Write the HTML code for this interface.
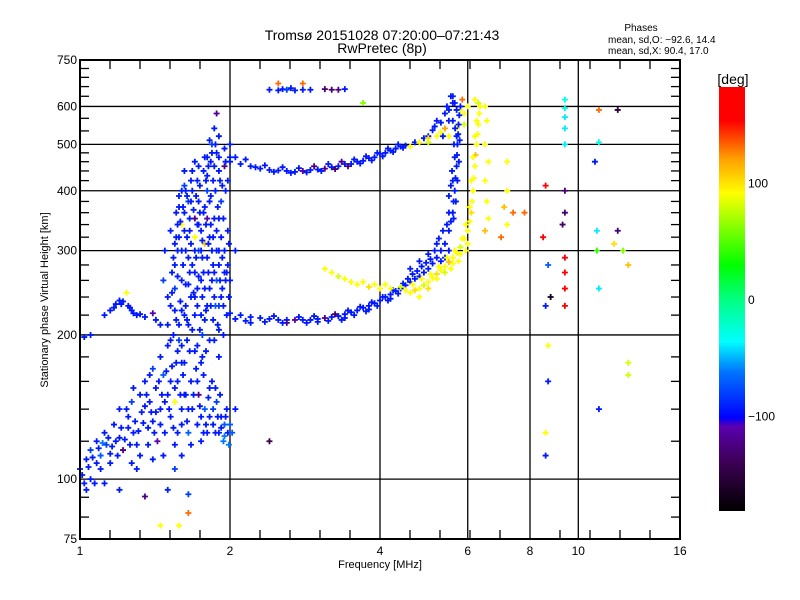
<!DOCTYPE html>
<html><head><meta charset="utf-8"><style>
body{margin:0;background:#fff;}
svg{display:block;font-family:"Liberation Sans",sans-serif;}
</style></head><body>
<svg id="chart" width="800" height="600" viewBox="0 0 800 600" xmlns="http://www.w3.org/2000/svg">
<defs>
<linearGradient id="cbg" x1="0" y1="1" x2="0" y2="0">
<stop offset="0" stop-color="#000"/>
<stop offset="0.11" stop-color="#3a0050"/>
<stop offset="0.2" stop-color="#5a00b0"/>
<stop offset="0.22" stop-color="#0000ff"/>
<stop offset="0.33" stop-color="#0078ff"/>
<stop offset="0.4" stop-color="#00ffff"/>
<stop offset="0.5" stop-color="#00ff80"/>
<stop offset="0.58" stop-color="#00ff00"/>
<stop offset="0.75" stop-color="#ffff00"/>
<stop offset="0.83" stop-color="#ffa000"/>
<stop offset="0.92" stop-color="#ff0000"/>
<stop offset="1" stop-color="#ff0000"/>
</linearGradient>
</defs>
<rect width="800" height="600" fill="#fff"/>
<g id="grid"></g>
<g id="marks"></g>
<g id="axes"></g>
<text x="382" y="40" font-size="14" text-anchor="middle">Tromsø 20151028 07:20:00–07:21:43</text>
<text x="382" y="53" font-size="14" text-anchor="middle">RwPretec (8p)</text>
<text x="641" y="31" font-size="10" text-anchor="middle">Phases</text>
<text x="608" y="43" font-size="10">mean, sd,O: −92.6, 14.4</text>
<text x="608" y="54" font-size="10">mean, sd,X:  90.4, 17.0</text>
<text x="380" y="568" font-size="11" text-anchor="middle">Frequency [MHz]</text>
<text transform="translate(48,300) rotate(-90)" font-size="11" text-anchor="middle">Stationary phase Virtual Height [km]</text>
<rect x="719" y="87" width="26" height="424" fill="url(#cbg)"/>
<text x="733" y="84" font-size="14" text-anchor="middle">[deg]</text>
<g id="cbticks"></g>
</svg>
<script>
const xTicks=[1,2,4,6,8,10,16];
const xGrid=[2,4,6,8,10];
const yTicks=[75,100,200,300,400,500,600,750];
const yGrid=[100,200,300,400,500,600];
const cbTicks=[100,0,-100];
// [freq MHz, height km, phase deg]
const lowCloud=[[1.0,105,-100],[1.02,98,-90],[1.03,110,-100],[1.05,115,-80],[1.05,100,-100],[1.08,120,-100],[1.1,112,-70],[1.1,105,-100],[1.12,125,-100],[1.13,118,-80],[1.15,108,-100],[1.17,130,-100],[1.2,122,-100],[1.2,140,-100],[1.22,115,-120],[1.25,135,-100],[1.27,145,-80],[1.28,125,-100],[1.3,118,-100],[1.32,150,-100],[1.33,138,-90],[1.35,160,-100],[1.37,128,-100],[1.38,145,-100],[1.4,170,-80],[1.4,132,-100],[1.42,155,-100],[1.43,120,-110],[1.45,180,-100],[1.45,140,-100],[1.47,165,-70],[1.48,125,-100],[1.5,150,-100],[1.5,190,-100],[1.52,135,-100],[1.53,172,-100],[1.55,145,90],[1.55,118,-100],[1.57,160,-100],[1.58,195,-80],[1.6,140,-100],[1.6,130,-100],[1.62,175,-100],[1.63,150,-100],[1.65,125,-70],[1.67,160,-100],[1.68,140,-100],[1.7,185,-100],[1.72,130,-100],[1.73,150,-120],[1.75,120,-100],[1.77,165,-100],[1.78,140,-70],[1.8,125,-100],[1.82,155,-100],[1.85,130,-100],[1.88,145,-80],[1.9,125,-100],[1.92,135,-100],[1.95,130,-70],[1.97,140,-100],[1.98,125,-100],[1.3,105,-100],[1.4,110,-100],[1.55,105,-80],[1.2,95,-100],[1.12,98,-100],[1.6,112,-100],[1.35,92,-120],[1.5,95,-90],[1.65,93,-80],[1.45,80,90],[1.58,80,90],[1.65,85,130],[1.03,95,-100],[1.15,113,-100],[1.25,128,-100],[1.35,142,-100],[1.45,130,-100],[1.55,155,-100],[1.65,140,-100],[1.75,135,-100],[1.85,140,-80],[1.95,123,-60],[2.0,130,-70],[1.08,108,-100],[1.18,120,-100],[1.28,155,-100],[1.38,165,-100],[1.48,145,-100]];
const lowCloud2=[[1.01,102,-100],[1.04,106,-100],[1.06,111,-100],[1.07,98,-100],[1.09,116,-100],[1.11,119,-60],[1.14,122,-100],[1.16,117,-100],[1.19,112,-100],[1.21,128,-100],[1.23,121,-100],[1.24,140,-100],[1.26,118,-100],[1.29,132,-100],[1.31,126,-100],[1.34,131,-100],[1.36,150,-100],[1.39,138,-100],[1.41,125,-100],[1.44,160,-100],[1.46,150,-100],[1.49,168,-100],[1.51,140,-100],[1.54,128,-100],[1.56,175,-100],[1.59,150,-100],[1.61,165,-100],[1.64,132,-100],[1.66,185,-100],[1.69,150,-100],[1.71,170,-100],[1.74,142,-100],[1.76,180,-100],[1.79,130,-100],[1.81,148,-100],[1.84,160,-100],[1.87,125,-100],[1.89,135,-100],[1.91,150,-100],[1.94,120,-60],[1.96,135,-100],[1.99,118,-60],[1.32,112,-100],[1.42,138,-100],[1.52,160,-100],[1.62,150,-100],[1.72,160,-100],[1.82,135,-100],[1.92,128,-100],[1.27,108,-100],[1.37,118,-100],[1.47,112,-100],[1.57,125,-100],[1.67,118,-100],[1.77,125,-100],[1.87,155,-100]];
const column=[[1.5,210,-100],[1.52,230,-100],[1.55,250,-80],[1.55,280,-100],[1.57,300,-100],[1.58,320,-100],[1.6,260,-100],[1.6,340,90],[1.62,220,-100],[1.62,360,-100],[1.65,290,-100],[1.65,380,-80],[1.67,240,-100],[1.67,310,-100],[1.68,400,-100],[1.7,270,-100],[1.7,350,-120],[1.72,230,-100],[1.72,420,-100],[1.73,300,-70],[1.75,330,-100],[1.75,260,-100],[1.77,440,-100],[1.78,370,-100],[1.78,215,-100],[1.8,290,-100],[1.8,400,-80],[1.82,250,-100],[1.83,460,-100],[1.85,320,-100],[1.85,420,-100],[1.87,230,-70],[1.88,480,-100],[1.9,280,-100],[1.9,350,-100],[1.92,380,-80],[1.93,250,-100],[1.95,300,-100],[1.95,450,-120],[1.97,220,-100],[1.98,330,-100],[2.0,260,-100],[1.53,270,-100],[1.58,210,-100],[1.63,230,-100],[1.68,280,-100],[1.73,380,-100],[1.78,310,110],[1.83,340,-100],[1.88,260,-70],[1.93,410,-100],[1.98,280,-100],[1.86,540,-100],[1.88,580,-120],[1.9,520,-100],[1.6,300,-100],[1.7,320,90],[1.65,210,-100],[1.75,220,-100],[1.85,215,-100],[1.55,225,-100],[1.5,240,-100],[1.47,260,-80],[1.48,300,-100],[1.52,330,-100],[1.6,400,-100],[1.62,440,-100],[1.7,460,-100],[1.8,470,-100],[1.95,490,-100],[2.0,470,-100],[2.05,300,-100],[2.05,140,-100],[2.02,125,-70],[1.56,360,-100],[1.58,390,-100],[1.62,410,-80],[1.66,350,-100],[1.7,300,-100],[1.72,250,-100],[1.76,290,-100],[1.8,350,-110],[1.82,380,-100],[1.84,300,-100],[1.86,270,-100],[1.9,230,-80],[1.92,320,-100],[1.96,260,-100],[1.54,200,-100],[1.6,190,-100],[1.68,205,-100],[1.76,200,-80],[1.82,195,-100],[1.9,205,-100],[1.56,320,-100],[1.64,320,-100],[1.74,360,-100],[1.8,430,-100],[1.86,450,-100],[1.9,440,-100],[1.98,420,-100],[1.84,500,-80],[2.0,500,-100]];
const column2=[[1.53,245,-100],[1.54,290,-100],[1.56,215,-100],[1.57,265,-100],[1.59,345,-100],[1.59,235,-100],[1.61,280,-100],[1.61,370,-100],[1.63,255,-100],[1.63,300,-100],[1.64,390,-100],[1.64,215,-100],[1.66,270,-100],[1.66,330,-100],[1.67,420,-100],[1.69,245,-100],[1.69,365,-100],[1.7,220,-100],[1.71,290,-100],[1.71,390,-100],[1.73,265,-100],[1.73,340,-100],[1.74,205,-100],[1.74,410,-100],[1.76,240,-100],[1.76,315,-100],[1.77,360,-100],[1.77,270,-100],[1.79,225,-100],[1.79,340,-100],[1.79,420,-100],[1.81,270,-100],[1.81,310,-100],[1.81,450,-100],[1.83,230,-100],[1.83,390,-100],[1.84,260,-100],[1.86,350,-100],[1.86,240,-100],[1.87,400,-100],[1.88,300,-100],[1.89,210,-100],[1.89,370,-100],[1.91,260,-100],[1.91,420,-100],[1.93,290,-100],[1.94,230,-100],[1.94,350,-100],[1.96,400,-100],[1.97,270,-100],[1.99,310,-100],[1.99,240,-100],[1.55,310,-100],[1.57,340,-100],[1.6,225,-100],[1.62,330,-100],[1.65,255,-100],[1.67,380,-100],[1.7,240,-100],[1.72,340,-100],[1.75,300,-100],[1.78,250,-100],[1.8,230,-100],[1.82,320,-100],[1.85,280,-100],[1.88,330,-100],[1.9,300,-100],[1.92,240,-100],[1.95,270,-100],[1.58,370,-100],[1.63,400,-100],[1.68,440,-100],[1.73,450,-100],[1.78,470,-100],[1.84,480,-100],[1.9,470,-100],[1.96,460,-100],[1.82,510,-100],[1.87,500,-100],[1.52,195,-100],[1.57,185,-100],[1.64,195,-100],[1.72,190,-100],[1.79,185,-100],[1.86,195,-100],[1.94,200,-100],[1.6,175,-100],[1.75,175,-100],[1.9,180,-100]];
const smallTrace=[[1.15,225,-100],[1.18,232,-100],[1.2,236,-100],[1.22,235,-100],[1.25,230,-100],[1.27,225,-100],[1.3,220,-100],[1.12,220,-100],[1.05,200,-100],[1.02,198,-100],[1.24,245,90],[1.4,222,-110],[1.35,218,-100],[1.45,210,-100],[1.42,215,-100],[1.17,228,-100],[1.21,232,-100],[1.26,228,-100],[1.32,221,-100],[1.28,222,-100]];
const upperTrace=[[2.0,460,-100],[2.1,455,-100],[2.2,450,-100],[2.3,445,-90],[2.4,442,-100],[2.5,441,-100],[2.6,440,-100],[2.7,438,-100],[2.8,440,-110],[2.9,442,-100],[3.0,443,-100],[3.1,445,-120],[3.2,448,-100],[3.3,450,-100],[3.4,455,-100],[3.5,455,-100],[3.6,460,-100],[3.7,462,-100],[3.8,468,-100],[3.9,470,-100],[4.0,478,-100],[4.1,480,-100],[4.2,485,-100],[4.3,490,-100],[4.4,495,-100],[4.5,497,-100],[4.7,505,-100],[4.9,515,-100],[5.1,535,-100],[5.3,555,-100],[5.5,590,-100],[5.6,610,-100],[2.15,465,-100],[2.35,452,-100],[2.55,448,-100],[2.75,446,-100],[2.95,450,-120],[3.15,455,-100],[3.35,460,-120],[3.55,465,-100],[3.75,472,-100],[3.95,480,-100],[4.15,490,-100],[4.35,500,-100],[5.2,560,-100],[5.4,580,-100],[2.05,470,-100],[2.25,448,-100],[2.45,438,-100],[2.65,436,-100],[2.85,437,-100],[3.05,440,-100],[3.25,444,-130],[3.45,450,-130],[3.65,456,-100],[3.85,463,-100],[4.05,472,-100],[4.25,482,-100],[4.45,492,-100],[5.0,520,-100],[5.15,545,-100],[5.45,600,-100],[5.35,520,-100],[5.5,560,-100],[5.55,630,-100]];
const upperX=[[4.6,495,90],[4.8,505,90],[5.0,515,100],[5.2,520,90],[5.4,540,120],[5.6,560,90],[5.8,590,90],[5.9,550,80],[5.85,620,130],[6.0,600,90],[5.0,505,80],[5.3,530,90],[5.5,520,90],[5.7,540,90],[5.9,580,90]];
const lowerTrace=[[2.0,222,-100],[2.1,220,-100],[2.2,218,-100],[2.3,217,-100],[2.4,216,-100],[2.5,215,-100],[2.6,215,-100],[2.7,215,-110],[2.8,215,-100],[2.9,215,-100],[3.0,216,-100],[3.1,217,-120],[3.2,218,-100],[3.3,219,-100],[3.4,221,-100],[3.5,223,-100],[3.6,225,-100],[3.7,228,-100],[3.8,230,-100],[3.9,233,-100],[4.0,236,-100],[4.1,240,-100],[4.2,243,-100],[4.3,247,-100],[4.4,250,-100],[4.5,254,-100],[4.6,258,-100],[4.7,262,-100],[4.8,265,-100],[4.9,270,-100],[5.0,275,-100],[5.1,282,-100],[5.2,290,-100],[5.3,300,-100],[5.4,310,-100],[5.5,330,-100],[5.55,345,-100],[5.6,360,-100],[5.62,380,-100],[5.65,400,-100],[5.67,425,-100],[5.7,450,-100],[5.71,475,-100],[5.72,500,-100],[5.74,525,-100],[5.75,550,-100],[5.77,575,-100],[5.8,600,-100],[5.6,630,-100],[4.6,275,-100],[4.8,285,-100],[5.0,295,-100],[5.2,310,-100],[5.35,330,-100],[5.5,360,-100],[5.6,420,-100],[5.65,470,-100],[5.7,520,-100],[5.6,560,-100],[2.2,212,-100],[2.6,212,-120],[3.0,213,-100],[3.4,217,-100],[3.8,226,-100],[4.2,238,-100]];
const lowerTrace2=[[2.05,216,-100],[2.15,214,-100],[2.35,213,-100],[2.45,219,-100],[2.55,212,-100],[2.75,218,-100],[2.85,212,-100],[2.95,219,-100],[3.15,214,-100],[3.25,221,-130],[3.35,215,-100],[3.45,225,-100],[3.55,220,-100],[3.65,229,-100],[3.75,224,-100],[3.85,234,-100],[3.95,230,-100],[4.05,240,-100],[4.15,236,-100],[4.25,248,-100],[4.35,244,-100],[4.45,256,-100],[4.55,262,-100],[4.65,268,-100],[4.75,272,-100],[4.85,278,-100],[4.95,283,-100],[5.05,288,-100],[5.15,300,-100],[5.25,318,-100],[5.45,340,-100],[5.5,390,-100],[5.58,440,-100],[5.63,500,-100],[5.66,540,-100],[5.7,590,-100],[5.55,410,-100],[5.62,350,-100],[5.68,380,-100],[5.72,420,-100],[5.76,460,-100],[5.78,510,-100],[5.65,610,-100],[5.5,300,-100],[5.4,290,-100],[5.3,285,-100]];
const lowerX=[[4.5,248,90],[4.6,245,90],[4.7,248,100],[4.8,250,90],[4.9,254,80],[5.0,258,90],[5.1,263,90],[5.2,268,100],[5.3,273,90],[5.4,278,90],[5.5,284,110],[5.6,290,90],[5.7,297,90],[5.8,305,80],[5.9,318,90],[6.0,330,90],[6.05,345,90],[6.1,360,100],[6.12,380,90],[6.15,400,90],[6.17,425,90],[6.2,450,90],[6.22,475,110],[6.25,500,90],[6.28,525,90],[6.3,550,90],[6.33,580,90],[6.35,600,90],[4.8,240,90],[5.0,250,100],[5.2,262,90],[5.4,270,80],[5.6,282,90],[5.8,295,90],[6.0,310,90],[3.1,275,90],[3.2,270,90],[3.3,265,80],[3.4,262,90],[3.5,258,90],[3.6,255,90],[3.8,252,100],[4.0,250,90],[4.2,250,90],[4.4,252,80],[3.7,258,90],[3.9,255,90],[4.1,255,90],[6.5,600,90],[6.55,560,90],[6.5,500,90],[6.6,460,90],[6.5,420,90],[6.55,380,90],[6.6,350,90],[6.5,330,110],[7.2,400,90],[7.1,370,110],[7.2,340,90],[7.0,320,130],[7.2,460,90],[7.4,360,130],[7.8,360,130],[4.65,255,90],[4.85,262,90],[5.05,268,90],[5.25,278,90],[5.45,290,90],[5.65,300,90],[5.85,318,90],[5.95,340,90],[6.05,370,90],[6.1,420,90],[6.15,470,90],[6.2,520,90],[6.25,560,90],[5.95,300,90],[5.75,285,90],[5.55,275,90]];
const sparse=[[8.6,410,160],[8.5,320,160],[8.7,280,-70],[8.8,240,-170],[8.6,230,-100],[8.7,190,90],[8.7,160,-100],[8.6,125,90],[8.6,112,-100],[9.4,620,-30],[9.4,595,-30],[9.4,570,-40],[9.4,540,-40],[9.4,500,-40],[9.4,400,-130],[9.4,360,-130],[9.3,340,-130],[9.4,290,160],[9.4,270,160],[9.4,250,160],[9.4,230,160],[11.0,590,130],[11.0,505,-30],[10.8,460,-100],[10.9,330,-40],[10.9,300,40],[11.0,250,-40],[12.0,590,-150],[12.0,330,-130],[12.3,300,60],[12.6,280,110],[12.6,175,80],[12.6,165,80],[11.8,310,100],[11.0,140,-100],[6.2,620,90],[6.3,610,80],[2.4,120,-140],[2.5,670,130],[2.8,670,130],[3.7,610,60]];
const topTrace=[[2.4,650,-100],[2.5,648,-100],[2.55,652,-100],[2.6,650,-80],[2.7,648,-100],[2.8,650,-100],[2.9,650,-100],[3.1,652,-130],[3.2,650,-130],[3.3,650,-120],[2.65,655,-100],[3.4,652,-100]];

const X0=80,X1=680,Y0=539,Y1=60;
function xs(f){return X0+(X1-X0)*Math.log2(f)/4;}
function ys(h){return Y0-(Y0-Y1)*Math.log10(h/75);}
const NS='http://www.w3.org/2000/svg';
function mk(tag,attrs,parent){const e=document.createElementNS(NS,tag);for(const k in attrs)e.setAttribute(k,attrs[k]);parent.appendChild(e);return e;}
const stops=[[-180,0,0,0],[-140,58,0,80],[-108,90,0,176],[-100,0,0,255],[-60,0,120,255],[-37,0,255,255],[0,0,255,128],[28,0,255,0],[90,255,255,0],[120,255,160,0],[150,255,0,0],[180,255,0,0]];
function col(p){if(p===-100)p=-92;for(let i=1;i<stops.length;i++){if(p<=stops[i][0]){const a=stops[i-1],b=stops[i];const t=(p-a[0])/(b[0]-a[0]);return 'rgb('+[1,2,3].map(j=>Math.round(a[j]+t*(b[j]-a[j]))).join(',')+')';}}return 'rgb(255,0,0)';}
const grid=document.getElementById('grid'),axes=document.getElementById('axes'),marks=document.getElementById('marks');
xGrid.forEach(v=>{const l=mk('line',{x1:xs(v),x2:xs(v),y1:Y1,y2:Y0,stroke:'#000','stroke-width':1.3},grid);

});
yGrid.forEach(v=>{const l=mk('line',{x1:X0,x2:X1,y1:ys(v),y2:ys(v),stroke:'#000','stroke-width':1.3},grid);

});
[lowCloud,lowCloud2,column,column2,smallTrace,upperTrace,upperX,lowerTrace,lowerTrace2,lowerX,sparse,topTrace].forEach(arr=>{arr.forEach(d=>{const x=xs(d[0]),y=ys(d[1]);const p=mk('path',{d:'M'+(x-3)+' '+y+'h6M'+x+' '+(y-3)+'v6',stroke:col(d[2]),'stroke-width':1.8},marks);

});});
const fr=mk('rect',{x:X0,y:Y1,width:X1-X0,height:Y0-Y1,fill:'none',stroke:'#000','stroke-width':2},axes);


for(let i=1;i<20;i++){if(i%5===0)continue;const x=X0+i*30;mk('line',{x1:x,x2:x,y1:Y0,y2:Y0-9,stroke:'#000','stroke-width':1.3},axes);mk('line',{x1:x,x2:x,y1:Y1,y2:Y1+9,stroke:'#000','stroke-width':1.3},axes);}
const yMinor=[[75,100,3],[100,200,5],[200,300,5],[300,400,5],[400,500,5],[500,600,3],[600,750,5]];
yMinor.forEach(s=>{const st=(s[1]-s[0])/s[2];for(let k=1;k<s[2];k++){const y=ys(s[0]+k*st);mk('line',{x1:X0,x2:X0+9,y1:y,y2:y,stroke:'#000','stroke-width':1.3},axes);mk('line',{x1:X1,x2:X1-9,y1:y,y2:y,stroke:'#000','stroke-width':1.3},axes);}});
xTicks.forEach(v=>{const t=mk('text',{x:xs(v),y:555,'font-size':12,'text-anchor':'middle'},axes);t.textContent=v;

});
yTicks.forEach(v=>{const t=mk('text',{x:77,y:ys(v)+4,'font-size':12,'text-anchor':'end'},axes);t.textContent=v;

});
const cbt=document.getElementById('cbticks');
cbTicks.forEach(v=>{const y=300-v*1.163;const t=mk('text',{x:748,y:y+4,'font-size':12},cbt);t.textContent=v<0?'−'+Math.abs(v):v;

});
</script>
</body></html>
